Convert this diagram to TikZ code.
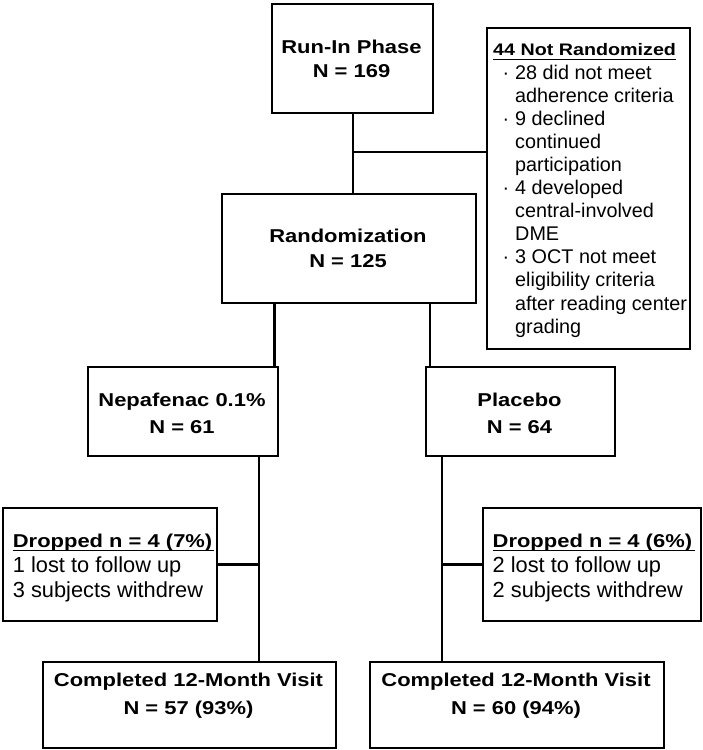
\documentclass[tikz,border=0pt]{standalone}
\usepackage{fontspec}
\setmainfont{Liberation Sans}
\newfontfamily\widefam[FakeStretch=1.18]{Liberation Sans}
\newcommand\BTf{\widefam\bfseries\fontsize{18.6}{24}\selectfont}
\newcommand\BTs{\widefam\bfseries\fontsize{16.7}{20}\selectfont}
\newcommand\RGb{\fontsize{21.8}{26}\selectfont}
\newcommand\RGs{\fontsize{19.8}{23}\selectfont}
\begin{document}
\begin{tikzpicture}[x=1pt,y=-1pt,
  box/.style={draw, line width=1.6pt, anchor=north west, inner sep=0pt},
  conn/.style={line width=2.6pt},
  uline/.style={line width=1.8pt},
  bl/.style={anchor=base, inner sep=0pt, font=\BTf},
  tl/.style={anchor=base west, inner sep=0pt},
]
\useasboundingbox (0,0) rectangle (702,750);

% boxes
\node[box, minimum width=161pt, minimum height=109pt] (runin) at (271,3) {};
\node[box, minimum width=203pt, minimum height=321pt] (notr) at (486,27) {};
\node[box, minimum width=254pt, minimum height=109pt] (rand) at (221,193) {};
\node[box, minimum width=190pt, minimum height=89pt] (nep) at (87,366) {};
\node[box, minimum width=189pt, minimum height=89pt] (plac) at (425,366) {};
\node[box, minimum width=214pt, minimum height=113pt] (drop1) at (2,507) {};
\node[box, minimum width=218pt, minimum height=113pt] (drop2) at (482,507) {};
\node[box, minimum width=293pt, minimum height=86pt] (comp1) at (42,661) {};
\node[box, minimum width=294pt, minimum height=86pt] (comp2) at (369,661) {};

% box texts
\node[bl] (t1a) at (351.5,53) {Run-In Phase};
\node[bl] (t1b) at (351.5,77) {N = 169};
\node[bl] (t2a) at (348,242) {Randomization};
\node[bl] (t2b) at (348,267) {N = 125};
\node[bl] (t3a) at (182,406) {Nepafenac 0.1\%};
\node[bl] (t3b) at (182,433) {N = 61};
\node[bl] (t4a) at (519.5,406) {Placebo};
\node[bl] (t4b) at (519.5,433) {N = 64};
\node[bl] (t5a) at (188.5,686) {Completed 12-Month Visit};
\node[bl] (t5b) at (188.5,714) {N = 57 (93\%)};
\node[bl] (t6a) at (516,686) {Completed 12-Month Visit};
\node[bl] (t6b) at (516,714) {N = 60 (94\%)};

% not randomized box
\node[tl, font=\BTs] (nrt) at (493,55) {44 Not Randomized};
\draw[uline] (493,59.5) -- (676,59.5);
\foreach \t/\y [count=\i] in {28 did not meet/79, adherence criteria/102.1,
  9 declined/125.2, continued/148.3, participation/171.4,
  4 developed/194.5, central-involved/217.6, DME/240.7,
  3 OCT not meet/263.8, eligibility criteria/286.9,
  after reading center/310, grading/333.1}
  \node[tl, font=\RGs] (nr\i) at (515,\y) {\t};
\foreach \y [count=\i] in {79,125.2,194.5,263.8}
  \node[tl, font=\RGs] (dot\i) at (502.5,\y) {·};

% dropped texts
\node[tl, font=\BTf] (d1t) at (12.7,547) {Dropped n = 4 (7\%)};
\draw[uline] (12.7,550.5) -- (214,550.5);
\node[tl, font=\RGb] (d1a) at (12.7,572) {1 lost to follow up};
\node[tl, font=\RGb] (d1b) at (12.7,597) {3 subjects withdrew};
\node[tl, font=\BTf] (d2t) at (492.5,547) {Dropped n = 4 (6\%)};
\draw[uline] (492.5,550.5) -- (695,550.5);
\node[tl, font=\RGb] (d2a) at (492.5,572) {2 lost to follow up};
\node[tl, font=\RGb] (d2b) at (492.5,597) {2 subjects withdrew};

% connectors
\coordinate (j1) at (0,152);
\draw[conn] ([xshift=0.5pt]runin.south) -- ([xshift=0.5pt]runin.south |- rand.north);
\draw[conn] ([xshift=0.5pt]runin.south |- j1) -- (notr.west |- j1);
\draw[conn] ([xshift=-4pt]nep.north east) -- ([xshift=-4pt]nep.north east |- rand.south);
\draw[conn] ([xshift=5pt]plac.north west) -- ([xshift=5pt]plac.north west |- rand.south);
\coordinate (v1) at (259,0);
\coordinate (v2) at (442,0);
\draw[conn] (v1 |- nep.south) -- (v1 |- comp1.north);
\draw[conn] (drop1.east) -- (drop1.east -| v1);
\draw[conn] (v2 |- plac.south) -- (v2 |- comp2.north);
\draw[conn] (drop2.west) -- (drop2.west -| v2);
\end{tikzpicture}
\end{document}
